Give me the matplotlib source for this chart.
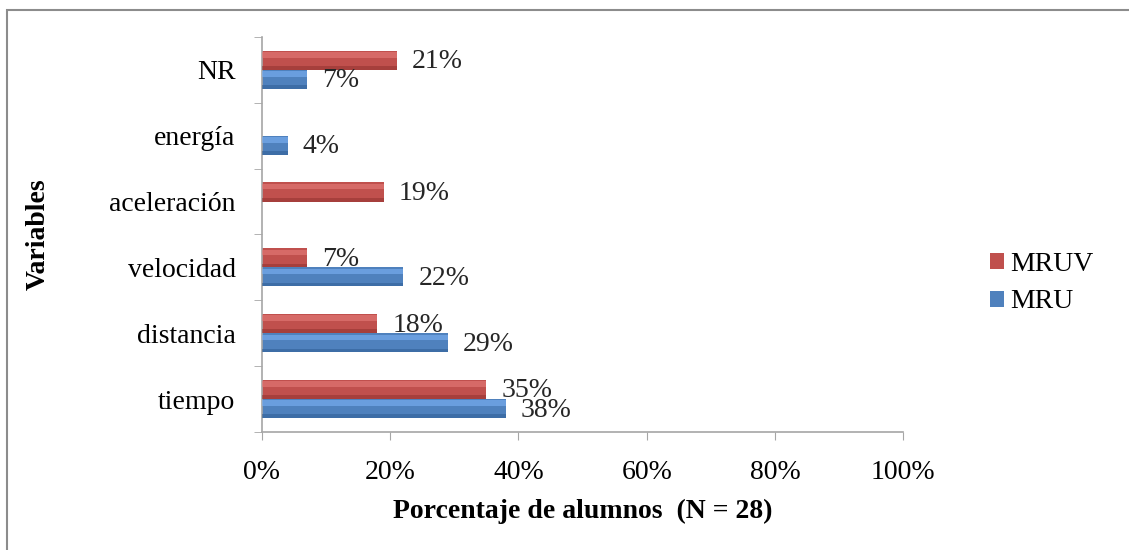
import matplotlib
matplotlib.use("Agg")
import matplotlib.pyplot as plt
import numpy as np
from matplotlib.patches import Rectangle

# datos del grafico
categorias = ["tiempo", "distancia", "velocidad", "aceleración", "energía", "NR"]
mru = [38, 29, 22, 0, 4, 7]
mruv = [35, 18, 7, 19, 0, 21]
ticks_x = [0, 20, 40, 60, 80, 100]

plt.rcParams['font.family'] = ['Liberation Serif', 'DejaVu Serif']

rojo = '#C0504D'
azul = '#4F81BD'
gris = '#A6A6A6'
fs = 20

fig = plt.figure(figsize=(11.29, 5.50), dpi=100)
ax = fig.add_axes([0.232, 0.2145, 0.568, 0.7185])

# marco exterior
fig.patches.append(Rectangle((0.006, -0.1), 1.2, 1.082, transform=fig.transFigure,
                             fill=False, edgecolor='#8C8C8C', linewidth=1.5))

y = np.arange(len(categorias))
h = 0.29


def barras(pos, vals, color, claro, oscuro):
    b = ax.barh(pos, vals, height=h, color=color, edgecolor='none', zorder=2)
    # brillo superior y sombra inferior para imitar el relieve
    ax.barh(pos + h * 0.28, vals, height=h * 0.3, color=claro, edgecolor='none',
            alpha=0.6, zorder=3)
    ax.barh(pos - h * 0.4, vals, height=h * 0.2, color=oscuro, edgecolor='none',
            alpha=0.5, zorder=3)
    for rect, v in zip(b, vals):
        if v == 0:
            continue
        ax.annotate(f"{v}%", (v, rect.get_y() + rect.get_height() / 2),
                    xytext=(11, -1), textcoords='offset points',
                    ha='left', va='center', fontsize=fs, color='#262626', zorder=4)
    return b


b_mruv = barras(y + h / 2, mruv, rojo, '#E57C79', '#8E2F2C')
b_mru = barras(y - h / 2, mru, azul, '#7DB3F5', '#2C5A90')

ax.set_xlim(0, 100)
ax.set_ylim(-0.5, len(categorias) - 0.5)
ax.set_xticks(ticks_x)
ax.set_xticklabels([f"{t}%" for t in ticks_x], fontsize=fs)
ax.set_yticks(y)
ax.set_yticklabels(categorias, fontsize=fs)
ax.set_yticks(np.arange(-0.5, len(categorias)), minor=True)

ax.tick_params(axis='y', which='major', length=0, pad=19)
ax.tick_params(axis='y', which='minor', length=6, color=gris, direction='out')
ax.tick_params(axis='x', length=6, color=gris, direction='out', pad=14)

for s in ['top', 'right']:
    ax.spines[s].set_visible(False)
for s in ['left', 'bottom']:
    ax.spines[s].set_color(gris)
    ax.spines[s].set_linewidth(1.2)

ax.set_xlabel("Porcentaje de alumnos  (N = 28)", fontsize=fs, fontweight='bold', labelpad=10)
ax.set_ylabel("Variables", fontsize=fs, fontweight='bold')
ax.yaxis.set_label_coords(-0.33, 0.5)

ax.legend([b_mruv, b_mru], ["MRUV", "MRU"], loc='center left',
          bbox_to_anchor=(0.855, 0.485), bbox_transform=fig.transFigure,
          frameon=False, fontsize=fs, handlelength=0.5, handleheight=0.5,
          handletextpad=0.2, labelspacing=0.45)

plt.savefig("out.png", dpi=100)
